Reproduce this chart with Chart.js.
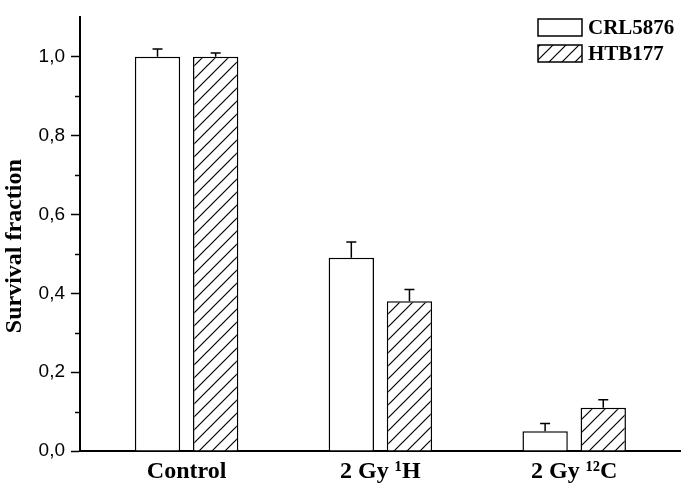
<!DOCTYPE html>
<html>
<head>
<meta charset="utf-8">
<script src="https://cdn.jsdelivr.net/npm/chart.js@4"></script>
<style>
    html, body { margin: 0; padding: 0; background: #fff; }
    #wrap { width: 684px; height: 492px; }
</style>
</head>
<body>
<div id="wrap"><canvas id="chart"></canvas></div>
<script>
// Data
const categories = ['Control', '2 Gy \u00B9H', '2 Gy \u00B9\u00B2C'];
const crlValues = [1.0, 0.49, 0.05];
const crlErrors = [0.02, 0.04, 0.02];
const htbValues = [1.0, 0.38, 0.11];
const htbErrors = [0.01, 0.03, 0.02];
const yTicks = [0, 0.2, 0.4, 0.6, 0.8, 1.0];
const yMinorTicks = [0.1, 0.3, 0.5, 0.7, 0.9];

const SERIF = '"Liberation Serif", "Times New Roman", serif';
const SANS = '"Liberation Sans", Arial, sans-serif';

// Hatch pattern "/"
function makeHatch() {
    const s = 13;
    const c = document.createElement('canvas');
    c.width = s; c.height = s;
    const g = c.getContext('2d');
    g.fillStyle = '#fff';
    g.fillRect(0, 0, s, s);
    g.strokeStyle = '#000';
    g.lineWidth = 1.2;
    g.beginPath();
    g.moveTo(0, s); g.lineTo(s, 0);
    g.moveTo(-2, 2); g.lineTo(2, -2);
    g.moveTo(s - 2, s + 2); g.lineTo(s + 2, s - 2);
    g.stroke();
    return g.createPattern(c, 'repeat');
}
const hatch = makeHatch();

const toPoints = vals => vals.map((v, i) => ({ x: i, y: v }));

// Error bars (upper only)
const errorBars = {
    id: 'errorBars',
    afterDatasetsDraw(chart) {
        const ctx = chart.ctx;
        const y = chart.scales.y;
        ctx.save();
        ctx.strokeStyle = '#000';
        ctx.lineWidth = 1.5;
        chart.data.datasets.forEach((ds, di) => {
            const meta = chart.getDatasetMeta(di);
            meta.data.forEach((bar, i) => {
                const top = y.getPixelForValue(ds.data[i].y + ds.errors[i]);
                ctx.beginPath();
                ctx.moveTo(bar.x, bar.y);
                ctx.lineTo(bar.x, top);
                ctx.moveTo(bar.x - 5, top);
                ctx.lineTo(bar.x + 5, top);
                ctx.stroke();
            });
        });
        ctx.restore();
    }
};

// Minor ticks on y axis
const minorTicks = {
    id: 'minorTicks',
    afterDraw(chart) {
        const ctx = chart.ctx;
        const y = chart.scales.y;
        ctx.save();
        ctx.strokeStyle = '#000';
        ctx.lineWidth = 1.5;
        yMinorTicks.forEach(v => {
            const py = Math.round(y.getPixelForValue(v)) + 0.5;
            ctx.beginPath();
            ctx.moveTo(y.right - 5, py);
            ctx.lineTo(y.right, py);
            ctx.stroke();
        });
        ctx.restore();
    }
};

// Legend box in the top right corner
const boxLegend = {
    id: 'boxLegend',
    afterDraw(chart) {
        const ctx = chart.ctx;
        const x0 = 538, w = 44, h = 17;
        ctx.save();
        ctx.font = 'bold 21px ' + SERIF;
        ctx.textBaseline = 'middle';
        chart.data.datasets.forEach((ds, i) => {
            const top = 19 + i * 26;
            ctx.fillStyle = ds.backgroundColor;
            ctx.fillRect(x0, top, w, h);
            ctx.strokeStyle = '#000';
            ctx.lineWidth = 1.5;
            ctx.strokeRect(x0, top, w, h);
            ctx.fillStyle = '#000';
            ctx.fillText(ds.label, x0 + w + 6, top + h / 2 + 1);
        });
        ctx.restore();
    }
};

new Chart(document.getElementById('chart'), {
    type: 'bar',
    data: {
        datasets: [
            {
                label: 'CRL5876',
                data: toPoints(crlValues),
                errors: crlErrors,
                backgroundColor: '#fff',
                borderColor: '#000',
                borderWidth: 1.5
            },
            {
                label: 'HTB177',
                data: toPoints(htbValues),
                errors: htbErrors,
                backgroundColor: hatch,
                borderColor: '#000',
                borderWidth: 1.5
            }
        ]
    },
    options: {
        responsive: true,
        maintainAspectRatio: false,
        animation: false,
        devicePixelRatio: 1,
        barPercentage: 0.78,
        categoryPercentage: 0.6,
        layout: { padding: { top: 4, right: 4, left: 0, bottom: 0 } },
        plugins: {
            legend: { display: false },
            tooltip: { enabled: false }
        },
        scales: {
            x: {
                type: 'linear',
                offset: false,
                min: -0.55,
                max: 2.546,
                afterBuildTicks: axis => { axis.ticks = categories.map((c, i) => ({ value: i })); },
                afterFit: scale => { scale.height = 41; },
                grid: { display: false, drawTicks: false },
                border: { display: true, color: '#000', width: 2 },
                ticks: {
                    autoSkip: false,
                    maxRotation: 0,
                    padding: 6,
                    color: '#000',
                    font: { family: SERIF, size: 24, weight: 'bold' },
                    callback: v => categories[v]
                }
            },
            y: {
                min: 0,
                max: 1.1,
                afterBuildTicks: axis => { axis.ticks = yTicks.map(v => ({ value: v })); },
                afterFit: scale => { scale.width = 80; },
                grid: { drawOnChartArea: false, drawTicks: true, tickLength: 9, tickWidth: 1.5, tickColor: '#000' },
                border: { display: true, color: '#000', width: 2 },
                ticks: {
                    padding: 6,
                    color: '#000',
                    font: { family: SANS, size: 19 },
                    callback: v => v.toFixed(1).replace('.', ',')
                },
                title: {
                    display: true,
                    text: 'Survival fraction    ',
                    color: '#000',
                    padding: { top: 0, bottom: 0 },
                    font: { family: SERIF, size: 24, weight: 'bold' }
                }
            }
        }
    },
    plugins: [errorBars, minorTicks, boxLegend]
});
</script>
</body>
</html>
